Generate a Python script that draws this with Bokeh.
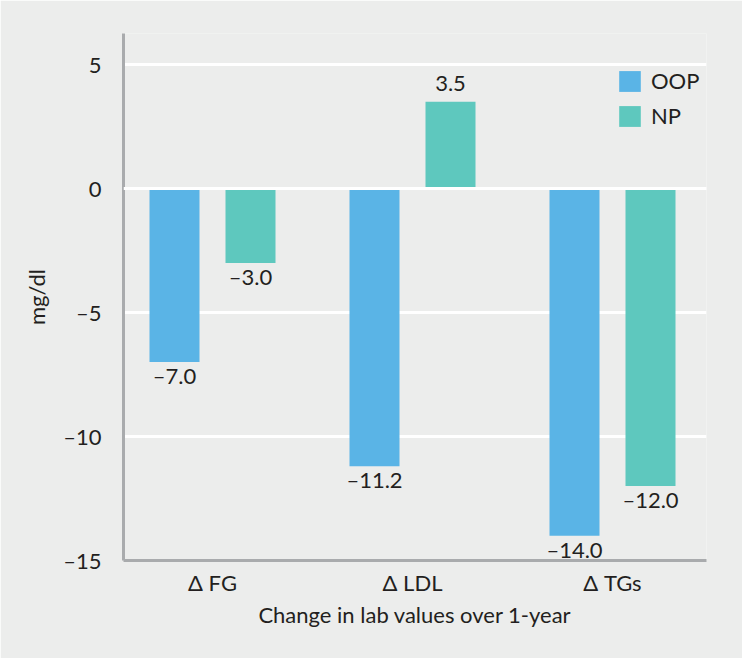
from bokeh.plotting import figure
from bokeh.models import Range1d, FixedTicker, Legend, LegendItem, Span
from bokeh.core.properties import value
from bokeh.embed import file_html
from bokeh.resources import INLINE

categories = ["Δ FG", "Δ LDL", "Δ TGs"]
series_names = ["OOP", "NP"]
oop = [-7.0, -11.2, -14.0]
np_vals = [-3.0, 3.5, -12.0]
y_ticks = [-15, -10, -5, 0, 5]
y_tick_labels = ["–15", "–10", "–5", "0", "5"]

FONT = "Lato"
BG = "#ecedec"
BLUE = "#5ab4e6"
TEAL = "#5ec8be"
TXT = "#231f20"
AXC = "#a9abad"
FS = "22px"

p = figure(frame_width=583, frame_height=527, output_backend="svg", toolbar_location=None,
           x_range=Range1d(0.555, 3.47), y_range=Range1d(-15, 6.25),
           min_border_left=123, min_border_right=36, min_border_top=33, min_border_bottom=98,
           background_fill_color=BG, border_fill_color=BG, outline_line_color=None)

# axes
for ax in (p.yaxis[0], p.xaxis[0]):
    ax.axis_line_color = AXC
    ax.axis_line_width = 3
    ax.major_tick_line_color = None
    ax.minor_tick_line_color = None
    ax.major_tick_out = 0
    ax.major_tick_in = 0
    ax.major_label_text_font = FONT
    ax.major_label_text_font_size = FS
    ax.major_label_text_color = TXT
    ax.axis_label_text_font = FONT
    ax.axis_label_text_font_size = FS
    ax.axis_label_text_font_style = "normal"
    ax.axis_label_text_color = TXT

p.yaxis.ticker = FixedTicker(ticks=y_ticks)
p.yaxis.major_label_overrides = {t: l for t, l in zip(y_ticks, y_tick_labels)}
p.yaxis.major_label_standoff = 22
p.yaxis.axis_label = "mg/dl"
p.yaxis.axis_label_standoff = 10

xpos = [i + 1 for i in range(len(categories))]
p.xaxis.ticker = FixedTicker(ticks=xpos)
p.xaxis.major_label_overrides = {x: c for x, c in zip(xpos, categories)}
p.xaxis.major_label_standoff = 8
p.xaxis.axis_label = "Change in lab values over 1-year"
p.xaxis.axis_label_standoff = 2

p.xgrid.grid_line_color = None
p.ygrid.ticker = FixedTicker(ticks=y_ticks)
p.ygrid.grid_line_color = "white"
p.ygrid.grid_line_width = 3

off = 0.19
bw = 0.25
x_oop = [x - off for x in xpos]
x_np = [x + off for x in xpos]

r1 = p.vbar(x=x_oop, top=oop, bottom=0, width=bw, fill_color=BLUE, line_color=None)
r2 = p.vbar(x=x_np, top=np_vals, bottom=0, width=bw, fill_color=TEAL, line_color=None)

p.add_layout(Span(location=0, dimension="width", line_color="white", line_width=3))

def fmt(v):
    s = f"{abs(v):.1f}"
    return ("–" + s) if v < 0 else s

all_x = x_oop + x_np
all_v = oop + np_vals
neg_x = [x for x, v in zip(all_x, all_v) if v < 0]
neg_v = [v for v in all_v if v < 0]
pos_x = [x for x, v in zip(all_x, all_v) if v >= 0]
pos_v = [v for v in all_v if v >= 0]

p.text(x=neg_x, y=neg_v, text=[fmt(v) for v in neg_v], text_font=value(FONT),
       text_font_size=FS, text_color=TXT, text_align="center", text_baseline="top", y_offset=0)
p.text(x=pos_x, y=pos_v, text=[fmt(v) for v in pos_v], text_font=value(FONT),
       text_font_size=FS, text_color=TXT, text_align="center", text_baseline="bottom", y_offset=-11)

legend = Legend(items=[LegendItem(label=series_names[0], renderers=[r1]),
                       LegendItem(label=series_names[1], renderers=[r2])],
                location=(493, 431), glyph_width=27, glyph_height=26, spacing=8,
                padding=0, margin=0, label_standoff=8, label_text_font=FONT,
                label_text_font_size=FS, label_text_color=TXT, label_height=26,
                border_line_color=None, background_fill_alpha=0)
p.add_layout(legend)

open("out.html", "w").write(file_html(p, INLINE))
